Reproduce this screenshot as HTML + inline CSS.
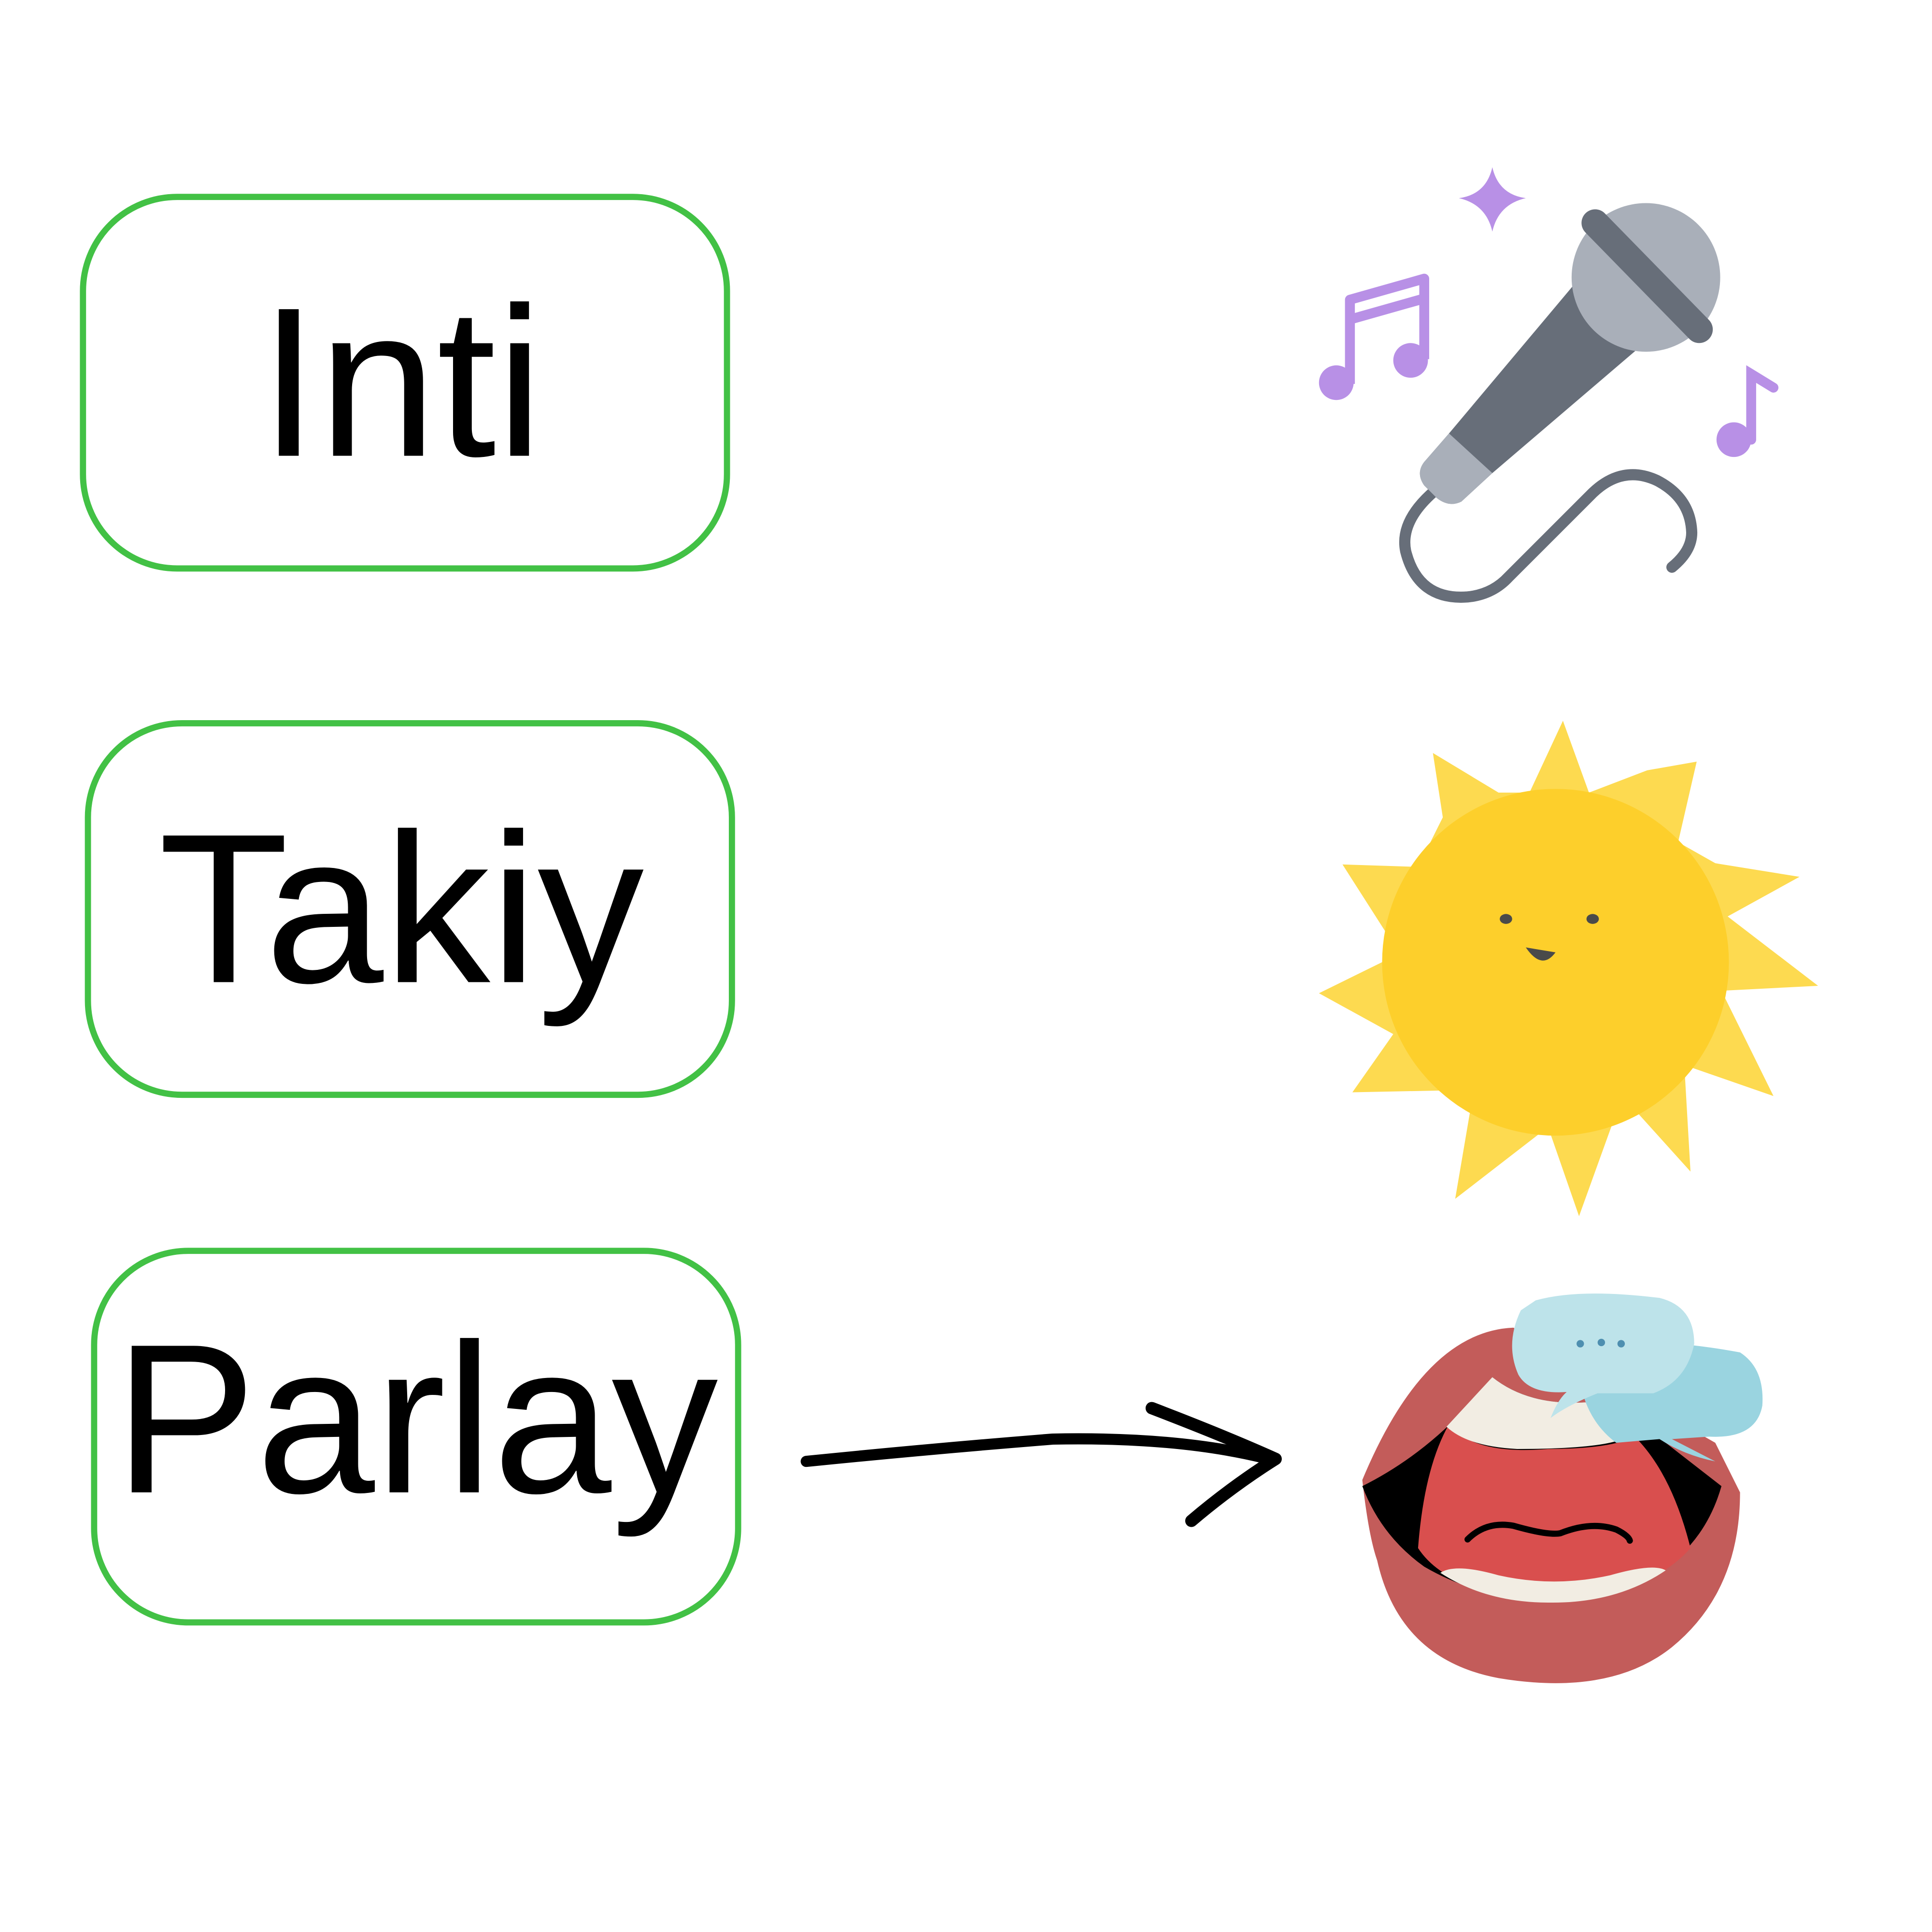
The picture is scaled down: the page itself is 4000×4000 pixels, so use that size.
<!DOCTYPE html>
<html><head><meta charset="utf-8"><style>
html,body{margin:0;padding:0;background:#fff;}
svg{display:block;}
</style></head><body>
<svg width="4000" height="4000" viewBox="0 0 1560 1560" xmlns="http://www.w3.org/2000/svg">
<rect width="1560" height="1560" fill="#fff"/>
<g fill="none" stroke="#42c145" stroke-width="5">
<rect x="67" y="159" width="520" height="300" rx="76"/>
<rect x="71" y="584" width="520" height="300" rx="76"/>
<rect x="76" y="1010" width="520" height="300" rx="76"/>
</g>
<g font-family="Liberation Sans, sans-serif" fill="#000" text-anchor="middle" font-size="172">
<text x="324" y="368">Inti</text>
<text x="324" y="793">Takiy</text>
<text x="336" y="1205">Parlay</text>
</g>
<!-- microphone -->
<path d="M1160 395 Q1130 420 1135 445 Q1145 485 1185 482 Q1205 480 1218 466 L1286 398 Q1310 375 1338 388 Q1365 402 1366 430 Q1366 445 1350 458" fill="none" stroke="#676e79" stroke-width="9" stroke-linecap="round"/>
<path d="M1275 225 L1322 282 L1205 382 L1180 405 Q1170 410 1160 402 L1150 392 Q1143 382 1150 373 L1170 350 Z" fill="#676e79"/>
<path d="M1170 350 L1205 382 L1180 405 Q1170 410 1160 402 L1150 392 Q1143 382 1150 373 Z" fill="#a9afb9"/>
<circle cx="1329" cy="224" r="60" fill="#a9afb9"/>
<line x1="1288" y1="180" x2="1372" y2="266" stroke="#676e79" stroke-width="22" stroke-linecap="round"/>
<path d="M1205 135 Q1210 157 1232 160 Q1210 165 1205 187 Q1200 165 1178 160 Q1200 157 1205 135Z" fill="#b890e6"/>
<g fill="#b890e6" stroke="#b890e6">
<circle cx="1079" cy="309" r="14" stroke="none"/>
<circle cx="1139" cy="291" r="14" stroke="none"/>
<path d="M1090 310 V242 L1150 225 V290 M1090 258 L1150 241" fill="none" stroke-width="8" stroke-linejoin="round"/>
<circle cx="1400" cy="355" r="14" stroke="none"/>
<path d="M1414 355 V302 L1432 313" fill="none" stroke-width="8" stroke-linecap="round"/>
</g>
<!-- sun -->
<path d="M1262 582 L1283 640 L1330 622 L1370 615 L1355 680 L1385 697 L1453 708 L1395 740 L1468 796 L1390 800 L1432 885 L1360 860 L1365 946 L1310 885 L1275 982 L1250 910 L1175 968 L1190 880 L1092 882 L1125 835 L1065 802 L1130 770 L1084 698 L1145 700 L1165 660 L1157 608 L1210 640 L1235 640 Z" fill="#fdda50"/>
<circle cx="1256" cy="777" r="140" fill="#fdcf2b"/>
<ellipse cx="1216" cy="742" rx="5" ry="4" fill="#4a4a4a"/>
<ellipse cx="1286" cy="742" rx="5" ry="4" fill="#4a4a4a"/>
<path d="M1232 765 L1256 769 Q1245 784 1232 765Z" fill="#4a4a4a"/>
<!-- arrow -->
<path d="M651 1180 Q750 1170 850 1162 Q950 1160 1020 1177" fill="none" stroke="#000" stroke-width="9" stroke-linecap="round"/>
<path d="M930 1137 Q990 1160 1030 1178 Q995 1200 962 1228" fill="none" stroke="#000" stroke-width="10" stroke-linecap="round" stroke-linejoin="round"/>
<!-- mouth -->
<path d="M1222 1072 Q1150 1075 1100 1195 Q1105 1240 1112 1260 Q1130 1340 1210 1355 Q1300 1370 1350 1330 Q1405 1285 1405 1205 L1385 1165 Z" fill="#c35c5a"/>
<path d="M1100 1200 Q1160 1170 1205 1112 Q1240 1140 1300 1130 L1390 1200 Q1370 1270 1290 1290 Q1210 1300 1150 1265 Q1115 1240 1100 1200Z" fill="#000"/>
<path d="M1170 1150 Q1190 1175 1250 1170 Q1300 1170 1320 1160 Q1350 1190 1365 1250 Q1330 1290 1250 1290 Q1170 1288 1145 1250 Q1150 1185 1170 1150Z" fill="#d94f4e"/>
<path d="M1205 1112 Q1240 1140 1300 1130 L1310 1162 Q1290 1170 1225 1170 Q1185 1168 1168 1152 Z" fill="#f2ede3"/>
<path d="M1163 1270 Q1175 1262 1210 1272 Q1255 1282 1300 1272 Q1335 1262 1345 1268 Q1305 1295 1250 1294 Q1200 1294 1163 1270Z" fill="#f2ede3"/>
<path d="M1185 1243 Q1200 1228 1222 1232 Q1250 1240 1260 1238 Q1285 1228 1305 1235 Q1315 1240 1316 1244" fill="none" stroke="#000" stroke-width="5" stroke-linecap="round"/>
<path d="M1290 1085 Q1340 1080 1405 1092 Q1425 1105 1423 1135 Q1418 1162 1380 1160 L1350 1162 L1385 1180 Q1360 1175 1340 1162 L1305 1165 Q1285 1150 1278 1125 Z" fill="#9ad4e0"/>
<path d="M1240 1050 Q1275 1040 1340 1048 Q1368 1055 1368 1085 Q1362 1115 1335 1125 L1290 1125 Q1265 1135 1252 1145 Q1258 1130 1265 1124 Q1235 1126 1226 1110 Q1215 1085 1228 1058 Z" fill="#bde3ea"/>
<g fill="#4e8fb0"><circle cx="1276" cy="1085" r="3"/><circle cx="1293" cy="1084" r="3"/><circle cx="1309" cy="1085" r="3"/></g>
</svg>
</body></html>
